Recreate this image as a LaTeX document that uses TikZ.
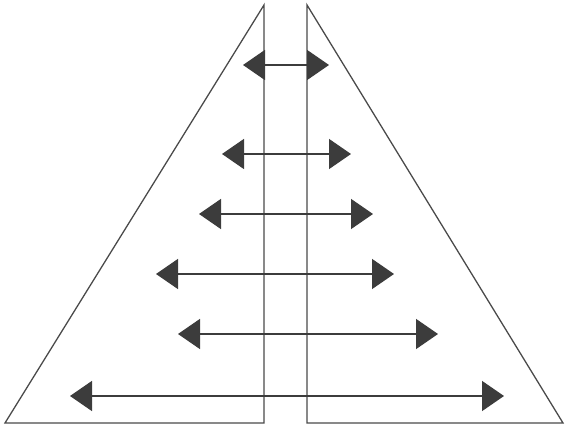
\documentclass[tikz,border=0pt]{standalone}
\usetikzlibrary{arrows.meta}
\definecolor{linegray}{HTML}{4A4A4A}
\definecolor{headgray}{HTML}{3C3C3C}
\tikzset{
  halfside/.style={draw=linegray,line width=1.1pt,line join=miter},
  spread/.style={draw=headgray,line width=1.3pt,
    {Triangle[length=0.66cm,width=0.9cm,fill=headgray]}-{Triangle[length=0.66cm,width=0.9cm,fill=headgray]}}
}
\begin{document}
\begin{tikzpicture}[x=0.03cm,y=-0.03cm]
  \useasboundingbox (0,0) rectangle (565,431);
  % left and right halves
  \coordinate (ltop) at (264,5);
  \coordinate (lbot) at (264,423);
  \coordinate (lcorner) at (5,423);
  \coordinate (rtop) at (307,5);
  \coordinate (rbot) at (307,423);
  \coordinate (rcorner) at (563,423);
  \draw[halfside] (ltop) -- (lbot) -- (lcorner) -- cycle;
  \draw[halfside] (rtop) -- (rbot) -- (rcorner) -- cycle;
  % double arrows
  \foreach \n/\y/\xl/\xr in {1/65/243/329, 2/154/222/351, 3/214/199/373,
                             4/274/156/394, 5/334/178/438, 6/396/70/504} {
    \coordinate (a\n l) at (\xl,\y);
    \coordinate (a\n r) at (\xr,\y);
    \draw[spread] (a\n l) -- (a\n r);
  }
\end{tikzpicture}
\end{document}
